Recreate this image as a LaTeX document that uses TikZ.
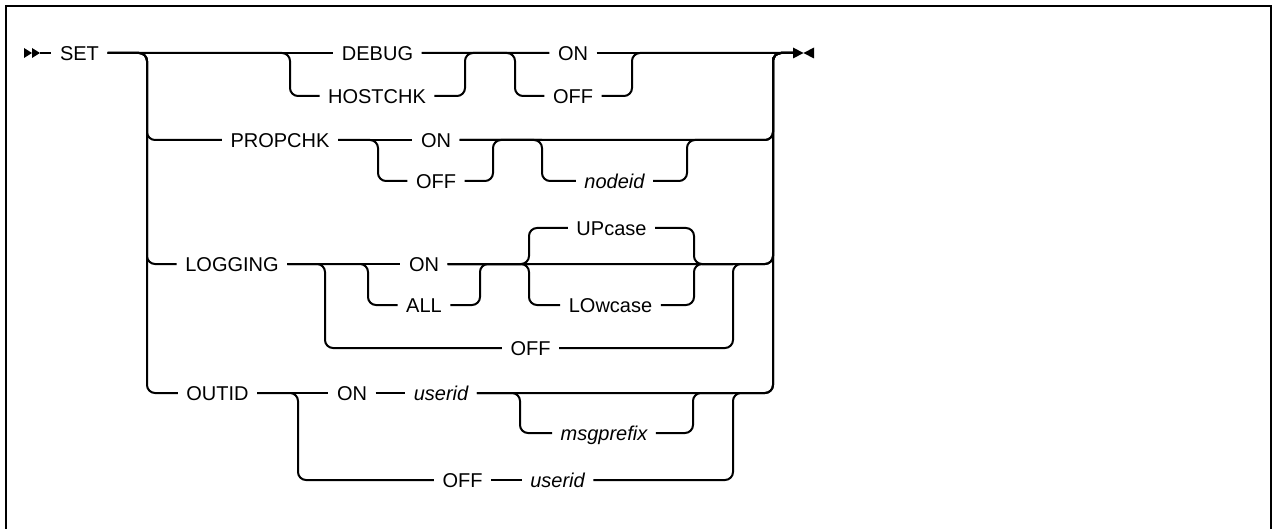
\documentclass[tikz,border=0pt]{standalone}
\usepackage{fontspec}
\setmainfont{Liberation Sans}
\tikzset{
    rail/.style={line width=1pt, rounded corners=4pt},
    kw/.style={inner xsep=4.3pt, inner ysep=0pt, outer sep=0pt, text height=9.2pt, text depth=2pt, font=\fontsize{10}{12}\selectfont},
    var/.style={kw, font=\fontsize{10}{12}\selectfont\itshape},
}
\begin{document}
\begin{tikzpicture}[x=0.5pt,y=-0.5pt]
    \useasboundingbox (0,0) rectangle (1273,529);
    \draw[line width=1.25pt] (6,529) -- (6,6) -- (1271,6) -- (1271,529);
    % junctions
    \coordinate (begin) at (40,53);
    \coordinate (A) at (147,53);
    \coordinate (b1) at (290,53);
    \coordinate (j1) at (465,53);
    \coordinate (b2) at (515,53);
    \coordinate (j2) at (632,53);
    \coordinate (Rtop) at (773,53);
    \coordinate (stop) at (793,53);
    \coordinate (b3) at (378,140);
    \coordinate (j3) at (493,140);
    \coordinate (b4) at (542,140);
    \coordinate (j4) at (687,140);
    \coordinate (b6) at (325,264);
    \coordinate (b5) at (368,264);
    \coordinate (j5) at (480,264);
    \coordinate (bu) at (529,264);
    \coordinate (ju) at (694,264);
    \coordinate (jo) at (733,264);
    \coordinate (b7) at (298,393);
    \coordinate (b8) at (520,393);
    \coordinate (j8) at (693,393);
    \coordinate (j9) at (733,393);
    % words
    \node[kw] (set) at (79.5,53) {SET};
    \node[kw] (debug) at (377.5,53) {DEBUG};
    \node[kw] (hostchk) at (377,96) {HOSTCHK};
    \node[kw] (on1) at (573,53) {ON};
    \node[kw] (off1) at (573,96) {OFF};
    \node[kw] (propchk) at (280,140) {PROPCHK};
    \node[kw] (on2) at (436,140) {ON};
    \node[kw] (off2) at (436,181) {OFF};
    \node[var] (nodeid) at (614.5,181) {nodeid};
    \node[kw] (logging) at (232,264) {LOGGING};
    \node[kw] (on3) at (424,264) {ON};
    \node[kw] (all) at (424,305) {ALL};
    \node[kw] (upcase) at (611.5,228) {UPcase};
    \node[kw] (lowcase) at (610.5,305) {LOwcase};
    \node[kw] (off3) at (530.5,348) {OFF};
    \node[kw] (outid) at (217.5,393) {OUTID};
    \node[kw] (on4) at (352,393) {ON};
    \node[var] (userid) at (441,393) {userid};
    \node[var] (msgprefix) at (604,433) {msgprefix};
    \node[kw] (off4) at (462.5,480) {OFF};
    \node[var] (userid2) at (557.5,480) {userid};
    % DEBUG / HOSTCHK
    \draw[rail] (begin) -- (set.west);
    \draw[rail] (set.east) -- (debug.west) (debug.east) -- (on1.west) (on1.east) -- (stop);
    \draw[rail] (set.east) -- (b1) |- (hostchk.west);
    \draw[rail] (hostchk.east) -| (j1) -- (on1.west);
    \draw[rail] (debug.east) -- (b2) |- (off1.west);
    \draw[rail] (off1.east) -| (j2) -- (stop);
    % PROPCHK
    \draw[rail] (set.east) -- (A) |- (propchk.west);
    \draw[rail] (propchk.east) -- (on2.west);
    \draw[rail] (propchk.east) -- (b3) |- (off2.west);
    \draw[rail] (off2.east) -| (j3) -- (b4);
    \draw[rail] (on2.east) -| (Rtop) -- (stop);
    \draw[rail] (on2.east) -- (b4) |- (nodeid.west);
    \draw[rail] (nodeid.east) -| (j4) -| (Rtop) -- (stop);
    % LOGGING
    \draw[rail] (set.east) -- (A) |- (logging.west);
    \draw[rail] (logging.east) -- (on3.west);
    \draw[rail] (logging.east) -- (b5) |- (all.west);
    \draw[rail] (logging.east) -- (b6) |- (off3.west);
    \draw[rail] (all.east) -| (j5) -- (bu);
    \draw[rail] (on3.east) -| (Rtop) -- (stop);
    \draw[rail] (on3.east) -- (bu) |- (upcase.west);
    \draw[rail] (on3.east) -- (bu) |- (lowcase.west);
    \draw[rail] (upcase.east) -| (ju) -- (jo);
    \draw[rail] (lowcase.east) -| (ju) -- (jo);
    \draw[rail] (off3.east) -| (jo) -| (Rtop) -- (stop);
    % OUTID
    \draw[rail] (set.east) -- (A) |- (outid.west);
    \draw[rail] (outid.east) -- (on4.west) (on4.east) -- (userid.west);
    \draw[rail] (outid.east) -- (b7) |- (off4.west);
    \draw[rail] (off4.east) -- (userid2.west);
    \draw[rail] (userid.east) -| (Rtop) -- (stop);
    \draw[rail] (userid.east) -- (b8) |- (msgprefix.west);
    \draw[rail] (msgprefix.east) -| (j8) -- (j9);
    \draw[rail] (userid2.east) -| (j9) -| (Rtop) -- (stop);
    % start and end marks
    \fill (24,48) -- (32,53) -- (24,58) -- cycle;
    \fill (32,48) -- (40,53) -- (32,58) -- cycle;
    \fill (793,47.5) -- (803.5,53) -- (793,58.5) -- cycle;
    \fill (814,47.5) -- (803.5,53) -- (814,58.5) -- cycle;
\end{tikzpicture}
\end{document}
